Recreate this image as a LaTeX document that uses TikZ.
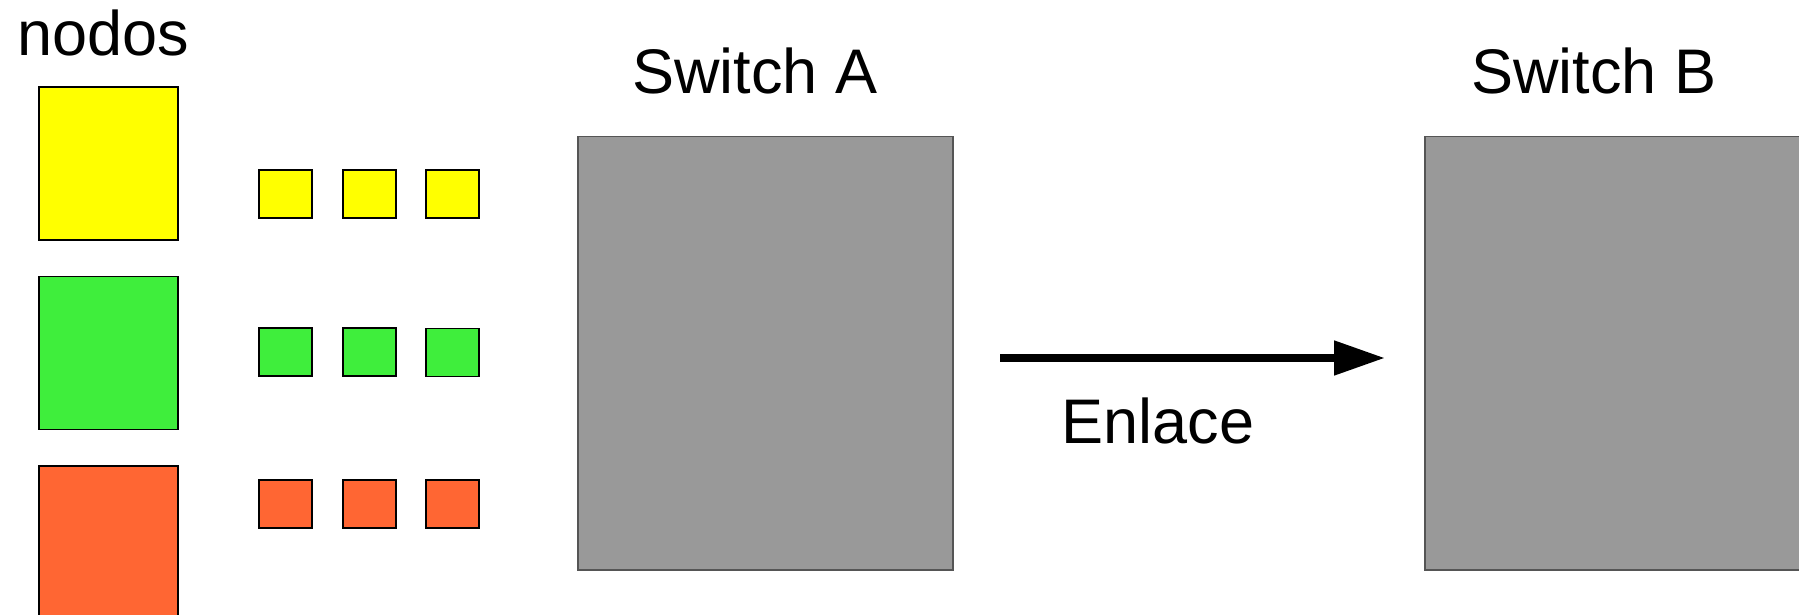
\documentclass[tikz,border=0pt]{standalone}
\usepackage{fontspec}
\setmainfont{Liberation Sans}
\usetikzlibrary{arrows.meta}
\definecolor{nyellow}{HTML}{FFFF00}
\definecolor{ngreen}{HTML}{3FEE3C}
\definecolor{norange}{HTML}{FF6633}
\definecolor{swgray}{HTML}{999999}
\definecolor{swborder}{HTML}{555555}
\begin{document}
\begin{tikzpicture}[x=1pt,y=-1pt,
  box/.style={draw=black, line width=1.2pt, inner sep=0pt, outer sep=0pt, anchor=north west},
  bigbox/.style={box, minimum width=139pt, minimum height=153pt},
  smallbox/.style={box, minimum width=53pt, minimum height=48pt},
  switchbox/.style={draw=swborder, fill=swgray, line width=1.5pt, inner sep=0pt, outer sep=0pt, anchor=north west, minimum width=375pt, minimum height=433.5pt},
  lbl/.style={font=\fontsize{63}{75}\selectfont, inner sep=0pt, anchor=base},
  link/.style={line width=8pt, -{Triangle[length=51pt,width=33pt]}}]
\useasboundingbox (0,0) rectangle (1799,615);
\clip (0,0) rectangle (1799,615);

\node[lbl] (nodos) at (103,56) {nodos};

\node[bigbox, fill=nyellow] (by) at (39,87) {};
\node[bigbox, fill=ngreen] (bg) at (39,276.5) {};
\node[bigbox, fill=norange] (bo) at (39,466) {};

\node[smallbox, fill=nyellow] (y1) at (259,170) {};
\node[smallbox, fill=nyellow] (y2) at (343,170) {};
\node[smallbox, fill=nyellow] (y3) at (426,170) {};
\node[smallbox, fill=ngreen] (g1) at (259,328) {};
\node[smallbox, fill=ngreen] (g2) at (343,328) {};
\node[smallbox, fill=ngreen] (g3) at (426,328.5) {};
\node[smallbox, fill=norange] (o1) at (259,480) {};
\node[smallbox, fill=norange] (o2) at (343,480) {};
\node[smallbox, fill=norange] (o3) at (426,480) {};

\node[switchbox] (swA) at (578,136.5) {};
\node[switchbox, minimum width=385pt] (swB) at (1425,136.5) {};

\node[lbl] (labA) at (755,94) {Switch A};
\node[lbl] (labB) at (1594,94) {Switch B};

\draw[link, shorten <=47pt, shorten >=40pt] ([yshift=-4.75pt]swA.east) -- ([yshift=-4.75pt]swB.west);
\node[lbl] (enlace) at (1158,443) {Enlace};
\end{tikzpicture}
\end{document}
